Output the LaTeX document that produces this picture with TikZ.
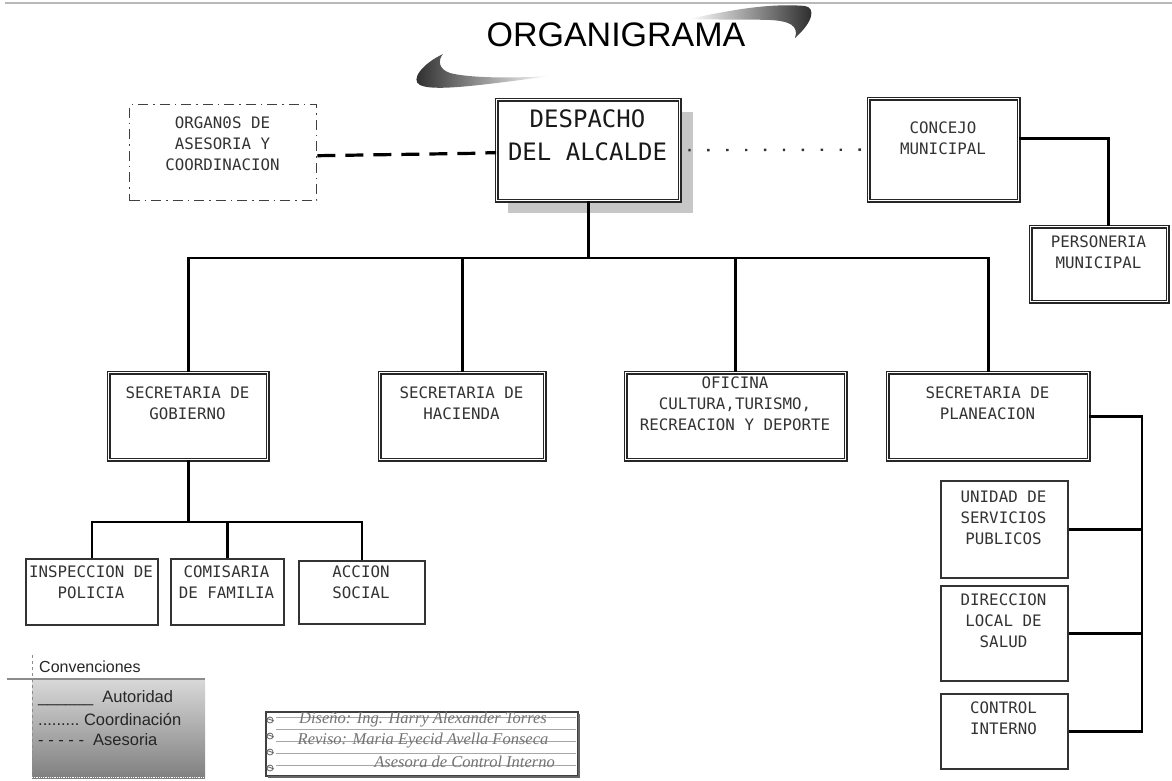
\documentclass[tikz,border=0pt]{standalone}
\usepackage{fontspec}
\setmainfont{Liberation Sans}
\newfontfamily\monof{DejaVu Sans Mono}
\newfontfamily\handf{Liberation Serif}
\newcommand\orgbox[6]{\node[#1, minimum width=#5-#3, minimum height=#6-#4] (#2) at (#3,#4) {};}
\begin{document}
\begin{tikzpicture}[x=1pt,y=-1pt,
  dbox/.style={draw=black!85, double=white, line width=1.3pt, double distance=1.3pt, fill=white, inner sep=0pt, anchor=north west},
  sbox/.style={draw=black!80, line width=1.8pt, fill=white, inner sep=0pt, anchor=north west},
  dashdotbox/.style={draw=black!75, line width=1.4pt, dash pattern=on 10pt off 5pt on 1.5pt off 5pt, inner sep=0pt, anchor=north west},
  btxt/.style={font=\monof\fontsize{15.8}{21}\selectfont, text=black!80, align=center, inner sep=0pt, anchor=north},
  conn/.style={line width=2.7pt, black},
  asesoria/.style={line width=3.2pt, black, dash pattern=on 18pt off 10pt},
  coord/.style={line width=2.4pt, black!80, dash pattern=on 2.4pt off 16.5pt},
  legtxt/.style={font=\fontsize{16.5}{19}\selectfont, text=black!85, inner sep=0pt, anchor=west},
  notetxt/.style={font=\handf\itshape\fontsize{16.5}{19}\selectfont, text=black!55, inner sep=0pt},
  ruling/.style={black!35, line width=0.7pt}
]
\useasboundingbox (0,0) rectangle (1172,780);
\fill[white] (0,0) rectangle (1172,780);
\draw[gray!55, line width=1.5pt] (5,3) -- (1172,3);

% title and swooshes
\shade[left color=white, right color=black!85]
  (689,19) .. controls (730,10) and (770,3) .. (805,6)
  .. controls (816,8) and (813,22) .. (795,38)
  .. controls (799,26) and (790,21) .. (770,20)
  .. controls (740,19) and (710,20) .. (689,19) -- cycle;
\shade[left color=black!85, right color=white]
  (443,54) .. controls (422,64) and (410,80) .. (420,85)
  .. controls (432,91) and (470,87) .. (550,76)
  .. controls (500,79) and (465,77) .. (450,73)
  .. controls (438,69) and (438,60) .. (443,54) -- cycle;
\node[font=\fontsize{34}{40}\selectfont, inner sep=0pt] (title) at (616,35) {ORGANIGRAMA};

% shadow of the main box
\fill[black!22] (508,112) rectangle (693,213);

% boxes
\orgbox{dbox}{desp}{496}{99}{679}{200}
\orgbox{dashdotbox}{org}{129}{104}{316}{200}
\orgbox{dbox}{conc}{868}{98}{1018}{200}
\orgbox{dbox}{pers}{1030}{226}{1167}{301}
\orgbox{dbox}{gob}{108}{372}{267}{459}
\orgbox{dbox}{hac}{379}{372}{544}{459}
\orgbox{dbox}{ofi}{625}{372}{845}{459}
\orgbox{dbox}{plan}{887}{372}{1088}{459}
\orgbox{sbox}{insp}{25}{558}{157}{624}
\orgbox{sbox}{com}{170}{558}{283}{624}
\orgbox{sbox}{acc}{298}{560}{424}{623}
\orgbox{sbox}{uni}{940}{480}{1067}{577}
\orgbox{sbox}{dir}{940}{585}{1067}{680}
\orgbox{sbox}{ctrl}{940}{693}{1067}{768}

% texts
\node[btxt, font=\monof\fontsize{24}{33}\selectfont, text=black!90] (desp-t) at (587.5,109) {DESPACHO\\DEL ALCALDE};
\node[btxt] (org-t) at (222.5,117) {ORGAN0S DE\\ASESORIA Y\\COORDINACION};
\node[btxt] (conc-t) at (943,122) {CONCEJO\\MUNICIPAL};
\node[btxt] (pers-t) at (1098.5,236) {PERSONERIA\\MUNICIPAL};
\node[btxt] (gob-t) at (187.5,387) {SECRETARIA DE\\GOBIERNO};
\node[btxt] (hac-t) at (461.5,387) {SECRETARIA DE\\HACIENDA};
\node[btxt] (ofi-t) at (735,377) {OFICINA\\CULTURA,TURISMO,\\RECREACION Y DEPORTE};
\node[btxt] (plan-t) at (987.5,387) {SECRETARIA DE\\PLANEACION};
\node[btxt] (insp-t) at (91,566) {INSPECCION DE\\POLICIA};
\node[btxt] (com-t) at (226.5,566) {COMISARIA\\DE FAMILIA};
\node[btxt] (acc-t) at (361,566) {ACCION\\SOCIAL};
\node[btxt] (uni-t) at (1003.5,491) {UNIDAD DE\\SERVICIOS\\PUBLICOS};
\node[btxt] (dir-t) at (1003.5,594) {DIRECCION\\LOCAL DE\\SALUD};
\node[btxt] (ctrl-t) at (1003.5,702) {CONTROL\\INTERNO};

% connectors
\coordinate (bus) at (587,258);
\coordinate (gbus) at (187,522);
\coordinate (pbus) at (1142,415);
\draw[conn] (desp.south) -- (desp.south |- bus);
\draw[conn] (gob.north) -- (gob.north |- bus) -- (plan.north |- bus) -- (plan.north);
\draw[conn] (hac.north) -- (hac.north |- bus);
\draw[conn] (ofi.north) -- (ofi.north |- bus);
\draw[conn] (gob.south) -- (gob.south |- gbus);
\draw[conn] (insp.north) -- (insp.north |- gbus) -- (acc.north |- gbus) -- (acc.north);
\draw[conn] (com.north) -- (com.north |- gbus);
\draw[conn] (plan.east) -- (plan.east -| pbus) -- (ctrl.east -| pbus) -- (ctrl.east);
\draw[conn] (uni.east) -- (uni.east -| pbus);
\draw[conn] (dir.east) -- (dir.east -| pbus);
\draw[conn] ([yshift=11pt]conc.east) -| ([xshift=9.5pt]pers.north);
\draw[asesoria] ([yshift=-3pt]org.east) -- ([xshift=-12pt,yshift=-3pt]desp.west) -- ([xshift=-7pt,yshift=-2.5pt]desp.west) -- ([yshift=-2.5pt]desp.west);
\draw[coord] ([xshift=8pt]desp.east) -- (conc.west);

% legend
\shade[top color=black!15, bottom color=black!50] (32,679) rectangle (205,778);
\draw[black!45, line width=1.5pt] (7,679) -- (205,679);
\draw[black!45, dashed, line width=0.6pt] (32,655) -- (32,778);
\draw[white, densely dotted, line width=0.8pt] (32,777) -- (205,777);
\node[legtxt, font=\fontsize{16}{19}\selectfont] (conv) at (39,667) {Convenciones};
\node[legtxt] (l1) at (38,698) {\_\_\_\_\_\_\ \ Autoridad};
\node[legtxt] (l2) at (38,719) {.........\ Coordinación};
\node[legtxt] (l3) at (38,740) {- - - - -\ \ Asesoria};

% note
\draw[black!75, line width=1.2pt, fill=white] (266,712) rectangle (578,776);
\draw[black!60, line width=1.2pt] (268,777) -- (579,777) -- (579,714);
\foreach \yy in {717,729,741,753,765} \draw[ruling] (276,\yy) -- (576,\yy);
\foreach \yy in {720,736,752,768} {
  \draw[black!60, line width=0.8pt] (270,\yy) circle (3pt);
  \draw[black!60, line width=0.8pt] (266,\yy-2) -- (274,\yy+1);
}
\node[notetxt] (n1) at (423,720) {Diseño: Ing. Harry Alexander Torres};
\node[notetxt] (n2) at (423,741) {Reviso: Maria Eyecid Avella Fonseca};
\node[notetxt, anchor=east] (n3) at (555,762) {Asesora de Control Interno};
\end{tikzpicture}
\end{document}
